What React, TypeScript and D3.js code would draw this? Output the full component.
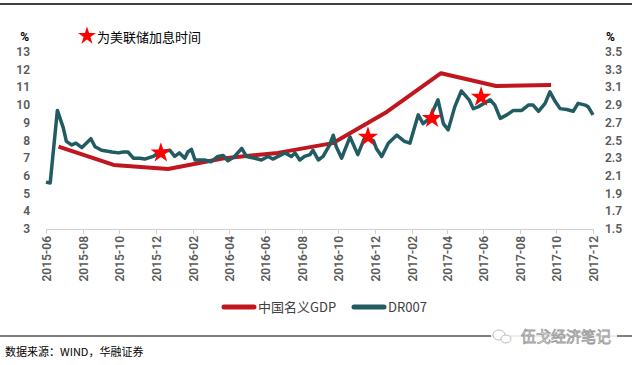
import React from "react";
import * as d3 from "d3";

// 中国名义GDP (left axis, %), quarterly
const gdpDates = [
  "2015-06-22", "2015-09-22", "2015-12-22", "2016-03-22", "2016-06-22",
  "2016-09-22", "2016-12-22", "2017-03-22", "2017-06-22", "2017-09-22",
];
const gdpValues = [7.65, 6.62, 6.39, 6.98, 7.3, 7.85, 9.63, 11.8, 11.08, 11.14];

// DR007 (right axis, %)
const drDates = [
  "2015-06-01", "2015-06-08", "2015-06-20", "2015-06-30", "2015-07-05", "2015-07-14",
  "2015-07-21", "2015-07-31", "2015-08-15", "2015-08-22", "2015-09-02", "2015-09-19",
  "2015-09-30", "2015-10-08", "2015-10-16", "2015-10-25", "2015-11-05", "2015-11-13",
  "2015-11-27", "2015-12-08", "2015-12-25", "2016-01-02", "2016-01-10", "2016-01-19",
  "2016-01-24", "2016-01-30", "2016-02-05", "2016-02-21", "2016-03-03", "2016-03-14",
  "2016-03-23", "2016-03-31", "2016-04-11", "2016-04-23", "2016-05-01", "2016-05-15",
  "2016-05-26", "2016-06-06", "2016-06-14", "2016-06-23", "2016-07-04", "2016-07-15",
  "2016-07-21", "2016-07-29", "2016-08-06", "2016-08-15", "2016-08-20", "2016-08-29",
  "2016-09-06", "2016-09-17", "2016-09-23", "2016-09-28", "2016-10-07", "2016-10-21",
  "2016-11-03", "2016-11-15", "2016-11-29", "2016-12-04", "2016-12-13", "2016-12-24",
  "2017-01-07", "2017-01-20", "2017-01-29", "2017-02-12", "2017-02-20", "2017-03-03",
  "2017-03-17", "2017-03-26", "2017-04-03", "2017-04-14", "2017-04-25", "2017-05-08",
  "2017-05-15", "2017-05-23", "2017-06-12", "2017-06-20", "2017-06-29", "2017-07-10",
  "2017-07-21", "2017-08-04", "2017-08-15", "2017-08-23", "2017-09-01", "2017-09-12",
  "2017-09-20", "2017-09-29", "2017-10-07", "2017-10-18", "2017-10-29", "2017-11-06",
  "2017-11-18", "2017-11-23", "2017-12-01",
];
const drValues = [
  2.03, 2.02, 2.84, 2.64, 2.49, 2.45,
  2.47, 2.42, 2.52, 2.43, 2.39, 2.37,
  2.36, 2.37, 2.37, 2.3, 2.3, 2.29,
  2.32, 2.37, 2.39, 2.32, 2.36, 2.3,
  2.37, 2.4, 2.28, 2.28, 2.26, 2.32,
  2.33, 2.27, 2.32, 2.41, 2.32, 2.3,
  2.28, 2.32, 2.29, 2.32, 2.36, 2.32,
  2.36, 2.28, 2.32, 2.34, 2.39, 2.28,
  2.32, 2.45, 2.56, 2.43, 2.3, 2.54,
  2.34, 2.54, 2.5, 2.41, 2.32, 2.47,
  2.56, 2.49, 2.47, 2.79, 2.69, 2.75,
  2.96, 2.69, 2.62, 2.88, 3.06, 2.96,
  2.86, 2.88, 2.96, 2.9, 2.75, 2.79,
  2.84, 2.84, 2.9, 2.9, 2.83, 2.92,
  3.05, 2.94, 2.86, 2.85, 2.83, 2.92,
  2.9, 2.88, 2.79,
];

// 美联储加息 markers
const hikeDates = ["2015-12-10", "2016-11-20", "2017-03-07", "2017-05-28"];
const hikeValues = [2.36, 2.54, 2.75, 2.99];

const xTickLabels = [
  "2015-06", "2015-08", "2015-10", "2015-12", "2016-02", "2016-04", "2016-06", "2016-08",
  "2016-10", "2016-12", "2017-02", "2017-04", "2017-06", "2017-08", "2017-10", "2017-12",
];
const leftTicks = [3, 4, 5, 6, 7, 8, 9, 10, 11, 12, 13];
const rightTicks = [1.5, 1.7, 1.9, 2.1, 2.3, 2.5, 2.7, 2.9, 3.1, 3.3, 3.5];

const W = 632;
const H = 365;
const RED = "#C0161E";
const TEAL = "#215C62";
const GREY = "#595959";
const AXIS_FONT = "Roboto, 'Noto Sans', sans-serif";
const CJK = "'Noto Sans CJK SC', sans-serif";

const parse = d3.timeParse("%Y-%m-%d");
const parseM = d3.timeParse("%Y-%m");

export default function App() {
  const x = d3
    .scaleTime()
    .domain([parseM("2015-06")!, parseM("2017-12")!])
    .range([46, 593]);
  const yL = d3.scaleLinear().domain([3, 13]).range([229, 52]);
  const yR = d3.scaleLinear().domain([1.5, 3.5]).range([229, 52]);

  const gdp = gdpDates.map((d, i) => ({ date: parse(d)!, v: gdpValues[i] }));
  const dr = drDates.map((d, i) => ({ date: parse(d)!, v: drValues[i] }));
  const hikes = hikeDates.map((d, i) => ({ date: parse(d)!, v: hikeValues[i] }));

  const gdpLine = d3
    .line<{ date: Date; v: number }>()
    .x((d) => x(d.date))
    .y((d) => yL(d.v));
  const drLine = d3
    .line<{ date: Date; v: number }>()
    .x((d) => x(d.date))
    .y((d) => yR(d.v));
  const star = d3.symbol().type(d3.symbolStar);

  return (
    <svg
      width={W}
      height={H}
      style={{ position: "absolute", left: 0, top: 0, background: "#fff" }}
    >
      <rect width={W} height={H} fill="#fff" />
      <line x1={0} x2={W} y1={4} y2={4} stroke="#000" strokeWidth={1.5} />

      {/* legend for stars */}
      <path d={star.size(100)()!} transform="translate(87,36)" fill="#FF0000" />
      <text x={97} y={42} fontFamily={CJK} fontSize={13} fill="#000">
        为美联储加息时间
      </text>

      {/* left axis */}
      <text x={29} y={41} textAnchor="end" fontFamily={AXIS_FONT} fontSize={12} fontWeight={700} fill="#000">
        %
      </text>
      {leftTicks.map((t) => (
        <text key={t} x={30} y={yL(t) + 4} textAnchor="end" fontFamily={AXIS_FONT} fontSize={12} fontWeight={600} fill={GREY}>
          {t}
        </text>
      ))}

      {/* right axis */}
      <text x={606} y={41} fontFamily={AXIS_FONT} fontSize={12} fontWeight={700} fill="#000">
        %
      </text>
      {rightTicks.map((t) => (
        <text key={t} x={605} y={yR(t) + 4} fontFamily={AXIS_FONT} fontSize={12} fontWeight={600} fill={GREY}>
          {d3.format(".1f")(t)}
        </text>
      ))}

      {/* x axis */}
      <line x1={46} x2={593} y1={229.5} y2={229.5} stroke="#D0D0D0" strokeWidth={1} />
      {xTickLabels.map((l) => {
        const px = Math.round(x(parseM(l)!)) + 0.5;
        return (
          <g key={l}>
            <line x1={px} x2={px} y1={229} y2={234} stroke="#D0D0D0" />
            <text
              transform={`translate(${px + 4},236) rotate(-90)`}
              textAnchor="end"
              fontFamily={AXIS_FONT}
              fontSize={12}
              fontWeight={600}
              fill={GREY}
            >
              {l}
            </text>
          </g>
        );
      })}

      {/* series */}
      <path d={gdpLine(gdp)!} fill="none" stroke={RED} strokeWidth={4} strokeLinejoin="round" />
      <path d={drLine(dr)!} fill="none" stroke={TEAL} strokeWidth={3.5} strokeLinejoin="round" />
      {hikes.map((h, i) => (
        <path
          key={i}
          d={star.size(130)()!}
          transform={`translate(${x(h.date)},${yR(h.v)})`}
          fill="#FF0000"
        />
      ))}

      {/* bottom legend */}
      <line x1={224} x2={254} y1={307} y2={307} stroke={RED} strokeWidth={5} strokeLinecap="round" />
      <text x={258} y={312} fontFamily={CJK} fontSize={13} fill="#404040">
        中国名义GDP
      </text>
      <line x1={354} x2={384} y1={307} y2={307} stroke={TEAL} strokeWidth={5} strokeLinecap="round" />
      <text x={388} y={312} fontFamily={CJK} fontSize={13} fill="#404040">
        DR007
      </text>

      {/* footer */}
      <line x1={0} x2={W} y1={336} y2={336} stroke="#000" strokeWidth={1.2} />
      <g transform="translate(499,336)">
        <rect x={-8} y={-9} width={126} height={18} fill="#fff" opacity={0.85} />
        <ellipse cx={0} cy={-1} rx={6} ry={5} fill="#fff" stroke="#BDBDBD" strokeWidth={1} />
        <ellipse cx={7} cy={3} rx={5} ry={4} fill="#fff" stroke="#BDBDBD" strokeWidth={1} />
        <text x={22} y={6} fontFamily={CJK} fontSize={15} fill="#fff" stroke="#9A9A9A" strokeWidth={0.8}>
          伍戈经济笔记
        </text>
      </g>
      <text x={5} y={356} fontFamily={CJK} fontSize={11} fill="#000">
        数据来源：WIND，华融证券
      </text>
    </svg>
  );
}
